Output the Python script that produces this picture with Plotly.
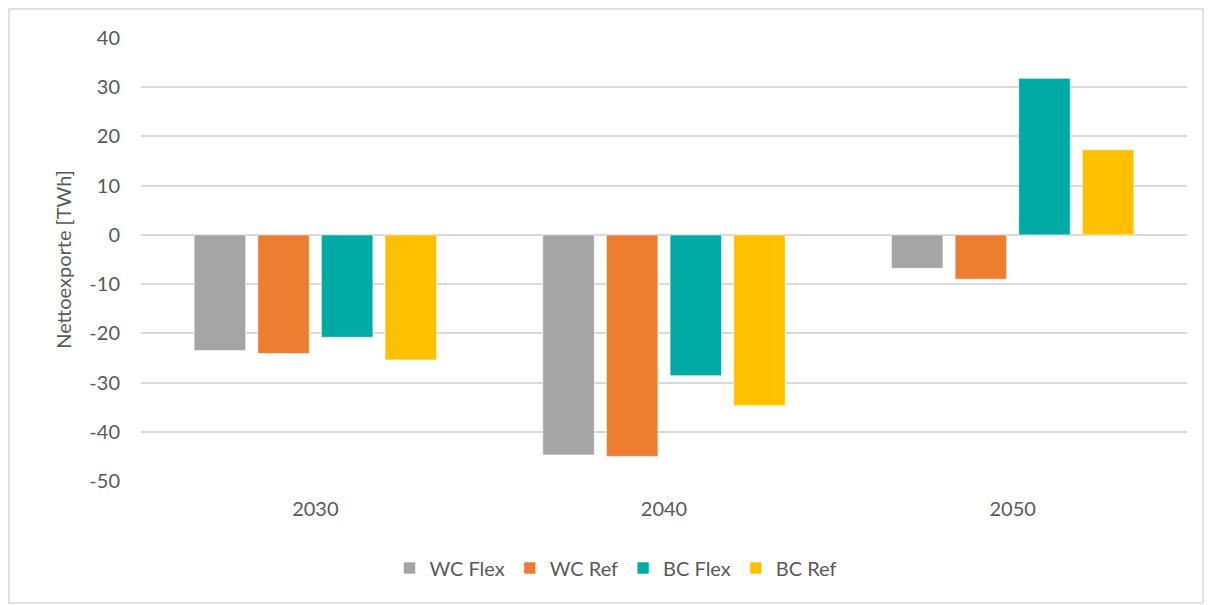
import plotly.graph_objects as go

years = ["2030", "2040", "2050"]
series_names = ["WC Flex", "WC Ref", "BC Flex", "BC Ref"]
wc_flex = [-23.5, -44.7, -6.8]
wc_ref = [-24.1, -45.0, -9.0]
bc_flex = [-20.8, -28.6, 31.8]
bc_ref = [-25.4, -34.7, 17.3]
y_ticks = [40, 30, 20, 10, 0, -10, -20, -30, -40, -50]
y_tick_labels = ["40", "30", "20", "10", "0", "-10", "-20", "-30", "-40", "-50"]

colors = ["#a5a5a5", "#ed7d31", "#00aaa5", "#ffc000"]
values = [wc_flex, wc_ref, bc_flex, bc_ref]

W, H = 1211, 605
L, R, T, B = 141, 24, 38, 124

fig = go.Figure()
for name, vals, col in zip(series_names, values, colors):
    fig.add_trace(go.Bar(
        x=years, y=vals, name=name,
        marker=dict(color=col, line=dict(color="rgba(255,255,255,0.6)", width=1)),
    ))

font_family = "Lato, 'Open Sans', sans-serif"
text_col = "#595959"

pw = W - L - R
ph = H - T - B
# outer chart frame
fig.add_shape(
    type="rect", xref="paper", yref="paper",
    x0=(9 - L) / pw, x1=(1203 - L) / pw,
    y0=(H - B - 603) / ph, y1=(H - B - 9) / ph,
    line=dict(color="#d9d9d9", width=1.5), fillcolor="rgba(0,0,0,0)", layer="below",
)

fig.update_layout(
    width=W, height=H,
    margin=dict(l=L, r=R, t=T, b=B, autoexpand=False),
    paper_bgcolor="white", plot_bgcolor="white",
    barmode="group", bargap=0.27, bargroupgap=0.19,
    font=dict(family=font_family, size=20, color=text_col),
    legend=dict(
        orientation="h", x=(616 - L) / pw, xanchor="center",
        y=-(568 - (H - B)) / ph, yanchor="middle",
        font=dict(size=20, color=text_col), itemwidth=30,
        traceorder="normal",
    ),
    xaxis=dict(
        showgrid=False, showline=False, ticks="",
        tickfont=dict(size=20, color=text_col),
        ticklabelstandoff=14,
    ),
    yaxis=dict(
        range=[-50, 40], tickvals=y_ticks, ticktext=y_tick_labels,
        showgrid=True, gridcolor="#d9d9d9", gridwidth=1.5,
        zeroline=True, zerolinecolor="#d9d9d9", zerolinewidth=1.5,
        showline=False, ticks="",
        tickfont=dict(size=20, color=text_col),
        ticklabelstandoff=20,
        title=dict(text="Nettoexporte [TWh]", font=dict(size=20, color=text_col), standoff=12),
    ),
)

fig.write_html("out.html")
